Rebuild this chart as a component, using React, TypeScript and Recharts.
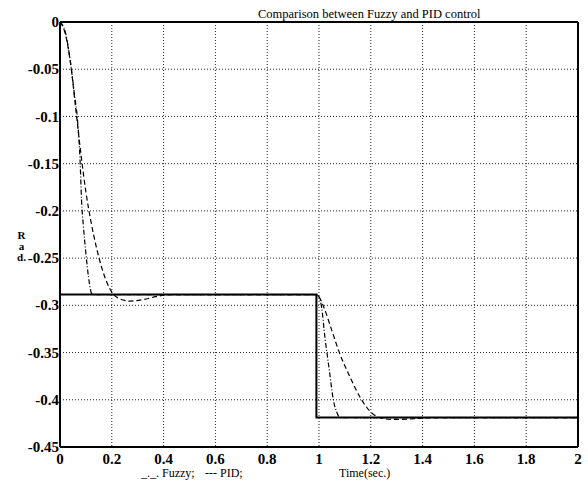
import React from 'react'
import { LineChart, Line, XAxis, YAxis, CartesianGrid } from 'recharts'

const xTicks = [0, 0.2, 0.4, 0.6, 0.8, 1, 1.2, 1.4, 1.6, 1.8, 2]
const yTicks = [0, -0.05, -0.1, -0.15, -0.2, -0.25, -0.3, -0.35, -0.4, -0.45]

// set point (solid)
const refTime = [0, 0.99, 0.99, 2]
const refRad = [-0.2886, -0.2886, -0.4188, -0.4188]

// fuzzy controller response (dash-dot)
const fuzzyTime = [
  0, 0.02, 0.04, 0.055, 0.068, 0.078, 0.083, 0.09, 0.1, 0.11, 0.125,
  0.99, 1.0, 1.01, 1.023, 1.04, 1.056, 1.07, 1.08, 2,
]
const fuzzyRad = [
  0, -0.01, -0.042, -0.075, -0.105, -0.15, -0.188, -0.215, -0.245, -0.27, -0.2886,
  -0.2886, -0.291, -0.302, -0.334, -0.369, -0.401, -0.414, -0.4188, -0.4188,
]

// PID controller response (dashed)
const pidTime = [
  0, 0.02, 0.04, 0.06, 0.08, 0.1, 0.12, 0.14, 0.16, 0.18, 0.2, 0.23, 0.27, 0.32, 0.37, 0.42,
  0.99, 1.0, 1.02, 1.05, 1.08, 1.12, 1.16, 1.2, 1.23, 1.28, 1.34, 1.4, 1.46, 2,
]
const pidRad = [
  0, -0.012, -0.042, -0.09, -0.138, -0.18, -0.212, -0.238, -0.259, -0.275, -0.286, -0.293,
  -0.2955, -0.294, -0.2908, -0.2888,
  -0.2886, -0.291, -0.303, -0.327, -0.351, -0.376, -0.398, -0.413, -0.4185, -0.4208, -0.4205,
  -0.4195, -0.4188, -0.4188,
]

const toPoints = (t: number[], r: number[]) => t.map((x, i) => ({ t: x, rad: r[i] }))

const refData = toPoints(refTime, refRad)
const fuzzyData = toPoints(fuzzyTime, fuzzyRad)
const pidData = toPoints(pidTime, pidRad)

const serif = '"Liberation Serif", "Times New Roman", serif'
const border = { stroke: '#000', strokeWidth: 2 }
const inner = { stroke: '#000', strokeWidth: 1 }

const XTick = ({ x, y, payload }: any) => (
  <text x={x} y={y} dy="0.71em" textAnchor="middle" fontFamily={serif} fontSize={15} fontWeight="bold" fill="#000">
    {payload.value}
  </text>
)

const YTick = ({ x, y, payload }: any) => (
  <text x={x} y={y} dy="0.34em" textAnchor="end" fontFamily={serif} fontSize={15} fontWeight="bold" fill="#000">
    {payload.value}
  </text>
)

const App = () => (
  <div style={{ position: 'absolute', left: 0, top: 0, width: 588, height: 486, background: '#fff', fontFamily: serif, color: '#000' }}>
    <LineChart width={588} height={486} margin={{ top: 22, right: 10, bottom: 38, left: 59 }}>
      <CartesianGrid stroke="#222" strokeDasharray="1 2" />
      <XAxis
        dataKey="t" type="number" domain={[0, 2]} ticks={xTicks} height={1}
        tickSize={0} tickMargin={6} tickLine={false} axisLine={border} tick={<XTick />}
        allowDataOverflow
      />
      <XAxis xAxisId="bottomTicks" dataKey="t" type="number" domain={[0, 2]} ticks={xTicks}
        height={1} mirror tickSize={4} tick={false} tickLine={inner} axisLine={false} />
      <XAxis xAxisId="top" orientation="top" dataKey="t" type="number" domain={[0, 2]} ticks={xTicks}
        height={1} mirror tickSize={4} tick={false} tickLine={inner} axisLine={border} />
      <YAxis
        type="number" domain={[-0.45, 0]} ticks={yTicks} width={1}
        tickSize={0} tickMargin={1} tickLine={false} axisLine={border} tick={<YTick />}
        allowDataOverflow
      />
      <YAxis yAxisId="leftTicks" type="number" domain={[-0.45, 0]} ticks={yTicks} width={1}
        mirror tickSize={4} tick={false} tickLine={inner} axisLine={false} />
      <YAxis yAxisId="right" orientation="right" type="number" domain={[-0.45, 0]} ticks={yTicks}
        width={1} mirror tickSize={4} tick={false} tickLine={inner} axisLine={border} />
      <Line data={refData} dataKey="rad" type="linear" stroke="#000" strokeWidth={2}
        dot={false} activeDot={false} isAnimationActive={false} />
      <Line data={pidData} dataKey="rad" type="monotone" stroke="#000" strokeWidth={1.2}
        strokeDasharray="5 3" dot={false} activeDot={false} isAnimationActive={false} />
      <Line data={fuzzyData} dataKey="rad" type="monotone" stroke="#000" strokeWidth={1.2}
        strokeDasharray="5 2 1 2" dot={false} activeDot={false} isAnimationActive={false} />
    </LineChart>

    <div style={{ position: 'absolute', left: 258, top: 7, fontSize: 12.5, whiteSpace: 'nowrap' }}>
      Comparison between Fuzzy and PID control
    </div>

    <div style={{ position: 'absolute', left: 15, top: 230, width: 13, textAlign: 'center', fontSize: 11, fontWeight: 'bold', lineHeight: '11px' }}>
      <div>R</div>
      <div>a</div>
      <div>d.</div>
    </div>

    <div style={{ position: 'absolute', left: 141, top: 466, fontSize: 12, whiteSpace: 'nowrap' }}>
      _._. Fuzzy;
    </div>
    <div style={{ position: 'absolute', left: 205, top: 466, fontSize: 12, whiteSpace: 'nowrap' }}>
      --- PID;
    </div>
    <div style={{ position: 'absolute', left: 339, top: 466, fontSize: 12, whiteSpace: 'nowrap' }}>
      Time(sec.)
    </div>
  </div>
)

export default App
